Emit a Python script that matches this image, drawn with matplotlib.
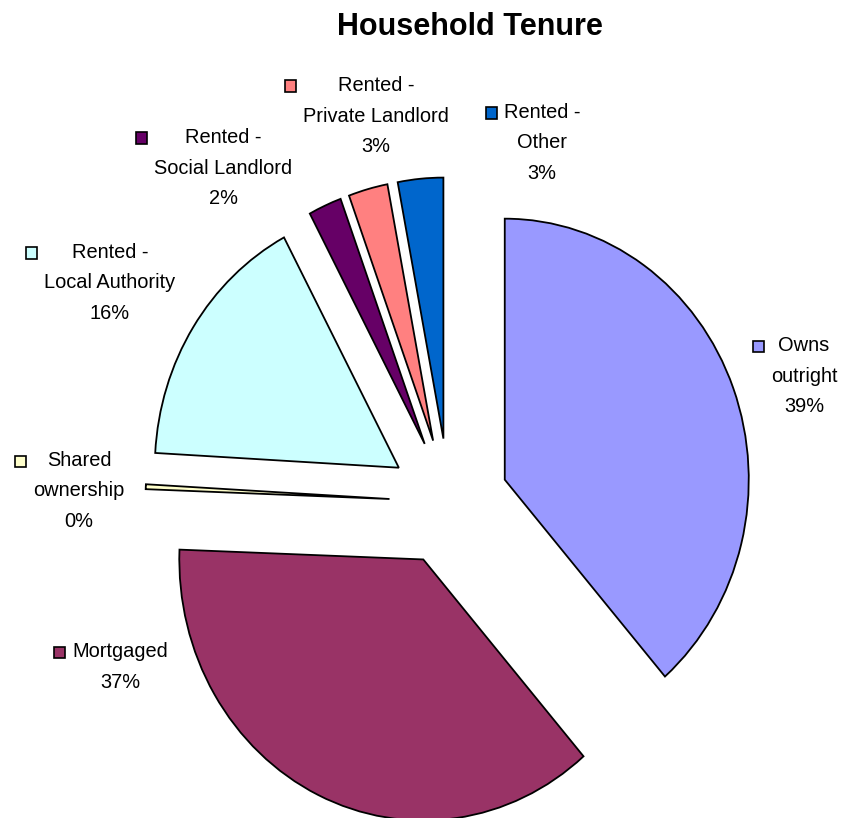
import matplotlib
matplotlib.use("Agg")
import matplotlib.pyplot as plt
from matplotlib.patches import Rectangle

plt.rcParams["font.family"] = ["Liberation Sans", "DejaVu Sans"]

categories = ["Owns\noutright", "Mortgaged", "Shared\nownership", "Rented -\nLocal Authority",
              "Rented -\nSocial Landlord", "Rented -\nPrivate Landlord", "Rented -\nOther"]
shares = [38.6, 37.0, 0.3, 16.3, 2.2, 2.6, 3.0]
colors = ["#9999FF", "#993366", "#FFFFCC", "#CCFFFF", "#660066", "#FF8080", "#0066CC"]

# label block centres, pixels from top-left
label_pos = [(804, 376), (120, 667), (79, 491), (110, 283), (223, 168), (376, 116), (542, 143)]

W, H = 856, 818
cx, cy, rx, ry = 449, 502, 244, 261  # pie centre / radii in pixels

fig = plt.figure(figsize=(W / 100, H / 100), dpi=100)
ax = fig.add_axes([0, 0, 1, 1])
ax.pie(shares, colors=colors, explode=[0.244] * len(shares), startangle=90,
       counterclock=False, wedgeprops=dict(edgecolor="black", linewidth=1.3))
ax.set_aspect("auto")
ax.set_xlim(-cx / rx, (W - cx) / rx)
ax.set_ylim(-(H - cy) / ry, cy / ry)
ax.axis("off")

fig.text(470 / W, 1 - 27 / H, "Household Tenure", ha="center", va="center",
         fontsize=22, fontweight="bold")

texts = []
for name, s, (px, py) in zip(categories, shares, label_pos):
    t = fig.text(px / W, 1 - py / H, f"{name}\n{round(s):.0f}%", ha="center", va="center",
                 fontsize=14.4, linespacing=1.78, multialignment="center")
    texts.append((t, name.count("\n") + 2, py))

# legend keys to the left of each label block, level with its first line
fig.canvas.draw()
r = fig.canvas.get_renderer()
size, gap, pitch = 11, 7, 30
for (t, n, py), c in zip(texts, colors):
    bb = t.get_window_extent(r)
    first = py - (n - 1) / 2 * pitch
    x0 = bb.x0 - gap - size
    y0 = H - first - size / 2
    fig.add_artist(Rectangle((x0 / W, y0 / H), size / W, size / H, transform=fig.transFigure,
                             facecolor=c, edgecolor="black", linewidth=1.2))

fig.savefig("out.png", dpi=100)
